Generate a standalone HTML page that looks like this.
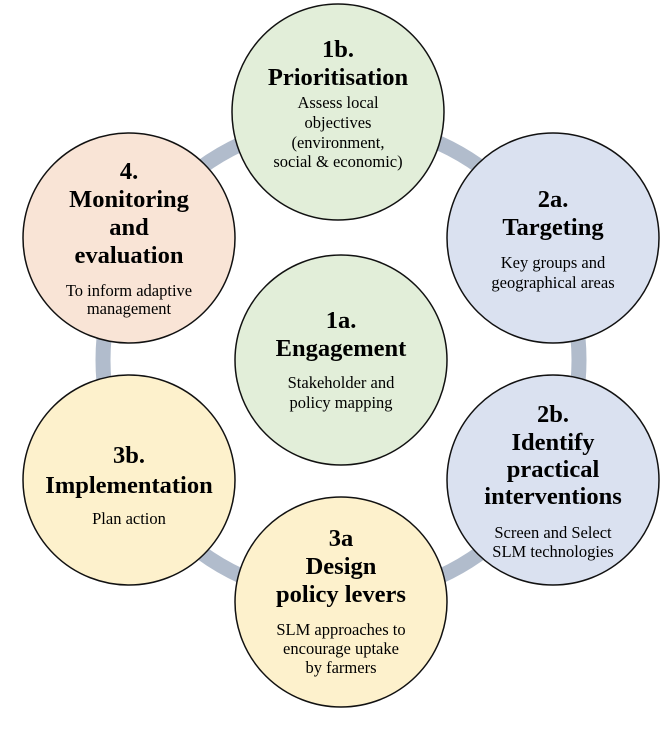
<!DOCTYPE html>
<html><head><style>
body{margin:0;background:#fff;}
svg{display:block;}
text{font-family:"Liberation Serif",serif;fill:#000;text-anchor:middle;}
.t{font-weight:bold;font-size:24.5px;}
.b{font-size:16.5px;}
</style></head><body>
<svg width="672" height="730" viewBox="0 0 672 730">
<circle cx="341" cy="360" r="238" fill="none" stroke="#b1bccc" stroke-width="15"/>
<g stroke="#111" stroke-width="1.5">
<ellipse cx="338" cy="112" rx="106" ry="108" fill="#e2eed9"/>
<ellipse cx="553" cy="238" rx="106" ry="105" fill="#dae1f0"/>
<ellipse cx="553" cy="480" rx="106" ry="105" fill="#dae1f0"/>
<ellipse cx="341" cy="602" rx="106" ry="105" fill="#fdf1cc"/>
<ellipse cx="129" cy="480" rx="106" ry="105" fill="#fdf1cc"/>
<ellipse cx="129" cy="238" rx="106" ry="105" fill="#f9e4d6"/>
<ellipse cx="341" cy="360" rx="106" ry="105" fill="#e2eed9"/>
</g>
<text class="t" x="338" y="57">1b.</text>
<text class="t" x="338" y="85">Prioritisation</text>
<text class="b" x="338" y="108">Assess local</text>
<text class="b" x="338" y="128">objectives</text>
<text class="b" x="338" y="148">(environment,</text>
<text class="b" x="338" y="167">social &amp; economic)</text>

<text class="t" x="553" y="207">2a.</text>
<text class="t" x="553" y="235">Targeting</text>
<text class="b" x="553" y="268">Key groups and</text>
<text class="b" x="553" y="288">geographical areas</text>

<text class="t" x="341" y="328">1a.</text>
<text class="t" x="341" y="356">Engagement</text>
<text class="b" x="341" y="388">Stakeholder and</text>
<text class="b" x="341" y="408">policy mapping</text>

<text class="t" x="129" y="179">4.</text>
<text class="t" x="129" y="207">Monitoring</text>
<text class="t" x="129" y="235">and</text>
<text class="t" x="129" y="263">evaluation</text>
<text class="b" x="129" y="296">To inform adaptive</text>
<text class="b" x="129" y="314">management</text>

<text class="t" x="553" y="422">2b.</text>
<text class="t" x="553" y="450">Identify</text>
<text class="t" x="553" y="477">practical</text>
<text class="t" x="553" y="504">interventions</text>
<text class="b" x="553" y="538">Screen and Select</text>
<text class="b" x="553" y="557">SLM technologies</text>

<text class="t" x="129" y="463">3b.</text>
<text class="t" x="129" y="493">Implementation</text>
<text class="b" x="129" y="524">Plan action</text>

<text class="t" x="341" y="546">3a</text>
<text class="t" x="341" y="574">Design</text>
<text class="t" x="341" y="602">policy levers</text>
<text class="b" x="341" y="635">SLM approaches to</text>
<text class="b" x="341" y="654">encourage uptake</text>
<text class="b" x="341" y="673">by farmers</text>
</svg>
</body></html>
